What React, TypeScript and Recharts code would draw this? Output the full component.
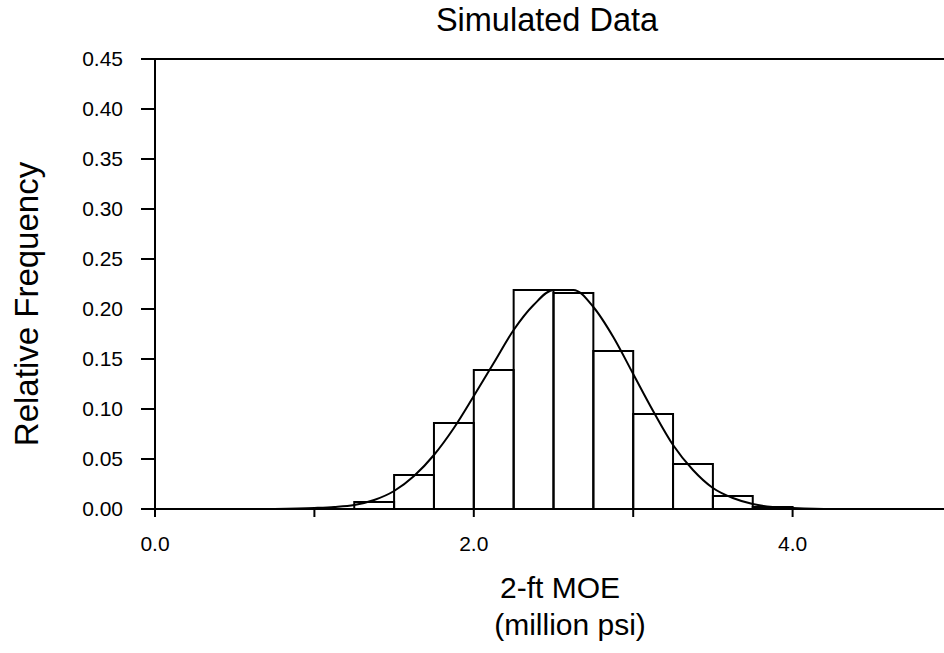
import {
  ComposedChart,
  Line,
  XAxis,
  YAxis,
  ReferenceArea,
  ReferenceLine,
} from 'recharts'

// ─── Data ─────────────────────────────────────────────────────────────────────

// histogram bins (left edge, million psi) and relative frequency
const binStarts = [1.25, 1.5, 1.75, 2.0, 2.25, 2.5, 2.75, 3.0, 3.25, 3.5, 3.75]
const binFreqs = [0.007, 0.034, 0.086, 0.139, 0.219, 0.216, 0.158, 0.095, 0.045, 0.013, 0.002]
const binWidth = 0.25

// fitted curve
const curveX = [
  0.75, 1.0, 1.125, 1.25, 1.375, 1.5, 1.625, 1.75, 1.875, 2.0, 2.125, 2.25, 2.375, 2.5,
  2.625, 2.75, 2.875, 3.0, 3.125, 3.25, 3.375, 3.5, 3.625, 3.75, 3.875, 4.0, 4.25, 4.5,
]
const curveY = [
  0.0, 0.001, 0.002, 0.004, 0.009, 0.018, 0.033, 0.054, 0.081, 0.113, 0.146, 0.179, 0.204,
  0.219, 0.219, 0.202, 0.172, 0.135, 0.098, 0.064, 0.039, 0.021, 0.011, 0.005, 0.002, 0.001,
  0.0, 0.0,
]

const xTicks = [0, 1, 2, 3, 4, 5]
const yTicks = [0, 0.05, 0.1, 0.15, 0.2, 0.25, 0.3, 0.35, 0.4, 0.45]

const curve = curveX.map((x, i) => ({ x, y: curveY[i] }))

const FONT = '"Liberation Sans", Arial, Helvetica, sans-serif'

// ─── Component ────────────────────────────────────────────────────────────────

export default function App() {
  return (
    <div
      style={{
        position: 'fixed',
        left: 0,
        top: 0,
        width: 944,
        height: 653,
        overflow: 'hidden',
        background: '#fff',
        fontFamily: FONT,
      }}
    >
      <ComposedChart
        width={960}
        height={653}
        data={curve}
        margin={{ top: 59, right: 8, left: 0, bottom: 0 }}
      >
        <XAxis
          dataKey="x"
          type="number"
          domain={[0, 5]}
          ticks={xTicks}
          tickFormatter={(v: number) => (v % 2 === 0 && v < 5 ? v.toFixed(1) : '')}
          height={144}
          tickSize={8}
          tickMargin={19}
          axisLine={{ stroke: '#000', strokeWidth: 2 }}
          tickLine={{ stroke: '#000', strokeWidth: 2 }}
          tick={{ fill: '#000', fontSize: 21, fontFamily: FONT }}
          interval={0}
        />
        <YAxis
          type="number"
          domain={[0, 0.45]}
          ticks={yTicks}
          tickFormatter={(v: number) => v.toFixed(2)}
          width={155}
          tickSize={14}
          tickMargin={18}
          axisLine={{ stroke: '#000', strokeWidth: 2 }}
          tickLine={{ stroke: '#000', strokeWidth: 2 }}
          tick={{ fill: '#000', fontSize: 21, fontFamily: FONT }}
          interval={0}
        />
        <ReferenceLine y={0.45} stroke="#000" strokeWidth={2} />
        {binStarts.map((x0, i) => (
          <ReferenceArea
            key={x0}
            x1={x0}
            x2={x0 + binWidth}
            y1={0}
            y2={binFreqs[i]}
            fill="#fff"
            fillOpacity={0}
            stroke="#000"
            strokeWidth={2}
          />
        ))}
        <Line
          dataKey="y"
          type="monotone"
          stroke="#000"
          strokeWidth={2}
          dot={false}
          activeDot={false}
          isAnimationActive={false}
        />
      </ComposedChart>

      {/* Titles — overlaid at fixed baselines */}
      <svg
        width={944}
        height={653}
        style={{ position: 'absolute', left: 0, top: 0, pointerEvents: 'none' }}
        fontFamily={FONT}
        fill="#000"
      >
        <text x={547} y={31} fontSize={32.5} textAnchor="middle">
          Simulated Data
        </text>
        <text
          x={38}
          y={304}
          fontSize={33}
          textAnchor="middle"
          transform="rotate(-90 38 304)"
        >
          Relative Frequency
        </text>
        <text x={560} y={598} fontSize={30} textAnchor="middle">
          2-ft MOE
        </text>
        <text x={570} y={635} fontSize={30} textAnchor="middle">
          (million psi)
        </text>
      </svg>
    </div>
  )
}
